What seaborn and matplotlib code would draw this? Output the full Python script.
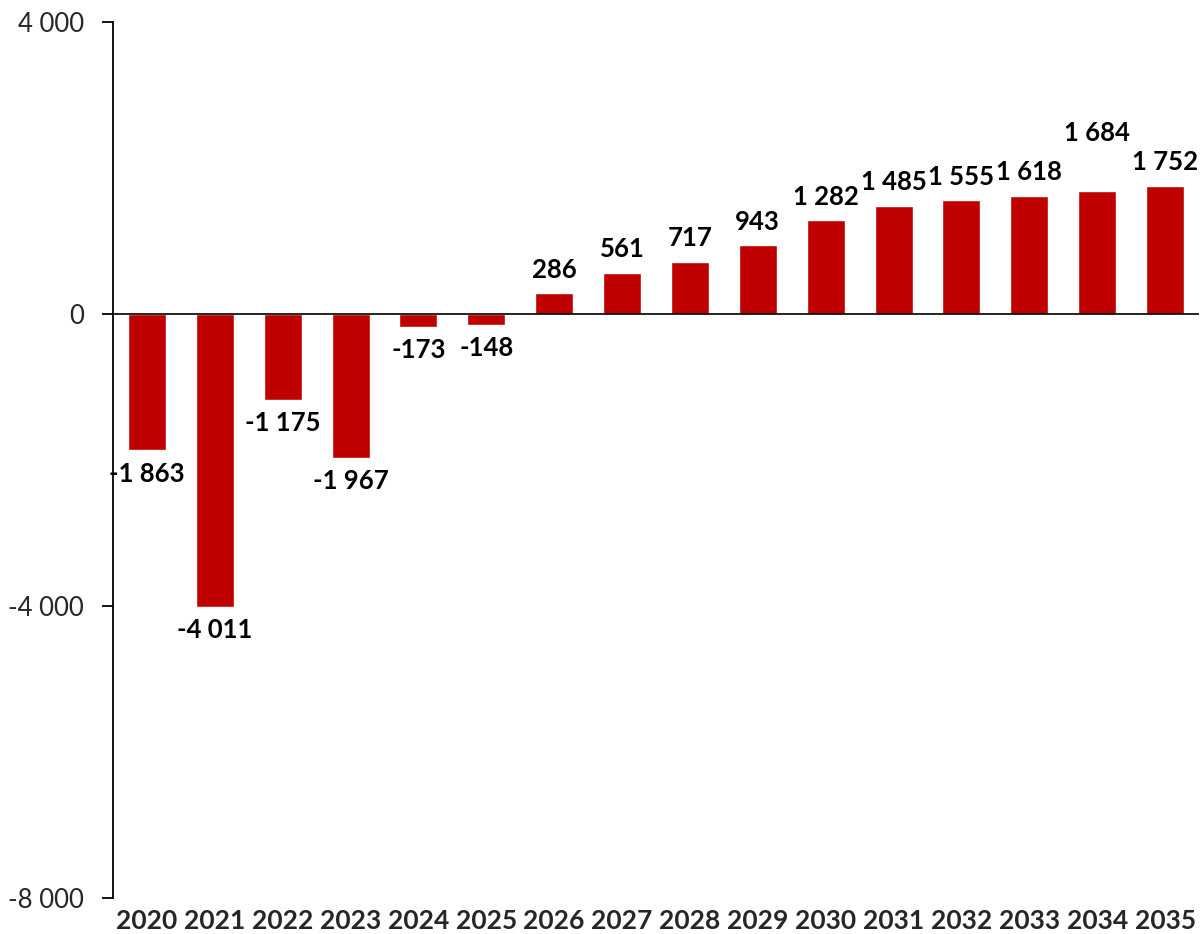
import matplotlib
matplotlib.use("Agg")
import matplotlib.pyplot as plt
import seaborn as sns
import pandas as pd

years = [str(y) for y in range(2020, 2036)]
values = [-1863, -4011, -1175, -1967, -173, -148, 286, 561, 717, 943,
          1282, 1485, 1555, 1618, 1684, 1752]
y_ticks = [4000, 0, -4000, -8000]

df = pd.DataFrame({"year": years, "value": values})

sns.set_theme(style="white")
plt.rcParams["font.family"] = ["Lato", "DejaVu Sans"]

fig = plt.figure(figsize=(12.01, 9.34), dpi=100)
ax = fig.add_axes([113 / 1201, 36 / 934, 1086 / 1201, 876 / 934])

sns.barplot(data=df, x="year", y="value", color="#C00000", saturation=1,
            width=0.56, ax=ax)

ax.set_xlim(-0.5, len(years) - 0.5)
ax.set_ylim(-8000, 4000)
ax.axhline(0, color="black", lw=1.2, zorder=3)

for s in ["top", "right", "bottom"]:
    ax.spines[s].set_visible(False)
ax.spines["left"].set_color("black")
ax.spines["left"].set_linewidth(1.3)

ax.set_yticks(y_ticks)
ax.set_yticklabels([f"{t:,}".replace(",", " ") for t in y_ticks], fontsize=18.5)
ax.tick_params(axis="y", direction="out", length=8, width=1.3, color="black",
               left=True, pad=13)
ax.tick_params(axis="x", length=0, pad=8)
for lbl in ax.get_xticklabels():
    lbl.set_fontweight("bold")
    lbl.set_fontsize(19)
ax.set_xlabel("")
ax.set_ylabel("")

# value labels; 2034 is lifted to clear its neighbours
lift = {"2034": 25}
for i, (yr, v) in enumerate(zip(years, values)):
    txt = f"{abs(v):,}".replace(",", " ")
    if v < 0:
        txt = "-" + txt
        off = -17
    else:
        off = 17 + lift.get(yr, 0)
    ax.annotate(txt, (i, v), xytext=(0, off), textcoords="offset points",
                ha="center", va="center", fontsize=18.5, fontweight="bold",
                color="black")

fig.savefig("out.png", dpi=100)
